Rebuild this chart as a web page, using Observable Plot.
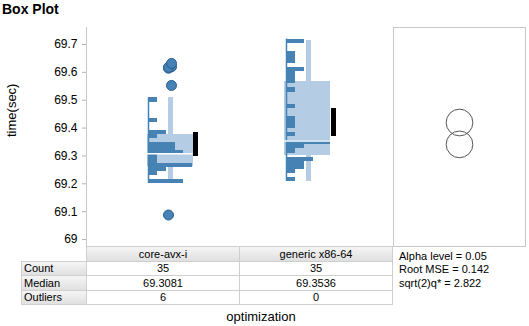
<!DOCTYPE html>
<html><head><meta charset="utf-8">
<script src="https://cdn.jsdelivr.net/npm/d3@7"></script>
<script src="https://cdn.jsdelivr.net/npm/@observablehq/plot@0.6"></script>
<style>
body{margin:0;background:#fff;font-family:"Liberation Sans",Arial,sans-serif;color:#000;}
#root{position:relative;width:529px;height:326px;overflow:hidden;}
.abs{position:absolute;}
.cell{position:absolute;box-sizing:border-box;border:1px solid #cfcfcf;font-size:11px;white-space:nowrap;overflow:hidden;}
.gray{background:linear-gradient(to bottom,#f5f5f5,#e0e0e0);}
</style></head><body><div id="root"></div>
<script>
// ---- data ----
const groups = ["core-avx-i", "generic x86-64"];
const counts = [35, 35];
const medians = [69.3081, 69.3536];
const outlierCounts = [6, 0];
const q1 = [69.263, 69.302];
const q3 = [69.377, 69.567];
const whiskerLow = [69.206, 69.209];
const whiskerHigh = [69.511, 69.714];
const means = [69.3415, 69.420];
const meanLow = [69.299, 69.370];
const meanHigh = [69.384, 69.470];
const binStart = [69.2015, 69.2083];
const binWidth = 0.0146;
const coreBins = [4,0,1,2,5,1,1,4,3,3,0,1,2,0,0,1,0,0,0,0,1];
const genericBins = [1,0,1,2,2,3,0,1,2,5,0,1,0,1,1,1,0,0,1,0,0,0,1,0,1,1,1,2,0,1,1,1,0,0,2];
const coreOutliers = [69.088, 69.553, 69.615, 69.620, 69.618, 69.632];
const alphaLevel = 0.05;
const rootMSE = 0.142;
const sqrt2q = 2.822;
const yTicks = [69, 69.1, 69.2, 69.3, 69.4, 69.5, 69.6, 69.7];

// ---- layout ----
const FONT = '"Liberation Sans", Arial, sans-serif';
const DARK = "#4682b4", LIGHT = "#b4cce4", GRID = "#c8c8c8";
const yDomain = [68.975, 69.761];
const xMin = -0.4493, xMax = 1.7754;
const PX = 307 / (xMax - xMin);
const u = px => px / PX;
const bins = [coreBins, genericBins];

const histData = [];
bins.forEach((b, gi) => b.forEach((c, i) => {
  if (c > 0) histData.push({gi, c, y1: binStart[gi] + i * binWidth, y2: binStart[gi] + (i + 1) * binWidth});
}));
const boxData = groups.map((g, i) => ({
  gi: i, q1: q1[i], q3: q3[i], med: medians[i], lo: whiskerLow[i], hi: whiskerHigh[i],
  mLo: meanLow[i], mHi: meanHigh[i], hs: binStart[i], he: binStart[i] + bins[i].length * binWidth
}));
const outData = coreOutliers.map((v, i) => ({gi: 0, v, j: i % 2 ? 1.5 : -1.5}));

const root = document.getElementById("root");
const crisp = {shapeRendering: "crispEdges"};

const main = Plot.plot({
  width: 529, height: 247,
  marginLeft: 86, marginRight: 136, marginTop: 27, marginBottom: 1,
  x: {domain: [xMin, xMax], axis: null},
  y: {domain: yDomain, axis: null},
  style: {fontFamily: FONT, fontSize: "12px", color: "#000", background: "transparent", overflow: "visible"},
  marks: [
    Plot.ruleX([xMin], {stroke: GRID}),
    Plot.ruleY([yDomain[0]], {stroke: GRID}),
    Plot.axisY({ticks: yTicks, tickFormat: d => String(+d.toFixed(1)), tickSize: 4, tickPadding: 5,
      stroke: "#b4b4b4", fill: "#000", fontSize: 12, label: null}),
    Plot.text(["time(sec)"], {frameAnchor: "left", dx: -75, rotate: -90, fontSize: 13, fill: "#000"}),
    Plot.rect(boxData, {x1: d => d.gi + u(-1.5), x2: d => d.gi + u(44.5), y1: "q1", y2: "q3", fill: LIGHT, ...crisp}),
    Plot.rect(boxData, {x1: d => d.gi + u(20), x2: d => d.gi + u(25), y1: "lo", y2: "hi", fill: LIGHT, ...crisp}),
    Plot.rect(histData, {x1: "gi", x2: d => d.gi + u(d.c * 8.85), y1: "y1", y2: "y2", fill: DARK, ...crisp}),
    Plot.ruleX(boxData, {x: "gi", y1: "hs", y2: "he", stroke: DARK, strokeWidth: 1.5}),
    Plot.ruleY(boxData, {y: "med", x1: d => d.gi + u(-1.5), x2: d => d.gi + u(44.5), stroke: "#fff", strokeWidth: 1.5}),
    Plot.rect(boxData, {x1: d => d.gi + u(45), x2: d => d.gi + u(50), y1: "mLo", y2: "mHi", fill: "#000", ...crisp}),
    Plot.dot(outData, {x: d => d.gi + u(21.5 + d.j), y: "v", r: 5, fill: DARK, stroke: "#2a5d8f", strokeWidth: 1})
  ]
});
main.style.position = "absolute"; main.style.left = "0px"; main.style.top = "0px";
root.appendChild(main);

// comparison circles
const radiusUnits = (sqrt2q / Math.SQRT2) * rootMSE / Math.sqrt(counts[0]);
const rPx = radiusUnits * (246 - 27) / (yDomain[1] - yDomain[0]);
const right = Plot.plot({
  width: 134, height: 247, marginLeft: 1, marginRight: 1, marginTop: 27, marginBottom: 1,
  x: {domain: [0, 1], axis: null}, y: {domain: yDomain, axis: null},
  style: {background: "transparent", overflow: "visible"},
  marks: [
    Plot.frame({stroke: GRID}),
    Plot.dot(means.map(m => ({m})), {x: () => 0.5, y: "m", r: rPx, stroke: "#555", strokeWidth: 1, fill: "none"})
  ]
});
right.style.position = "absolute"; right.style.left = "392px"; right.style.top = "0px";
root.appendChild(right);

// title
const title = document.createElement("div");
title.className = "abs";
title.style.cssText = "left:2px;top:1px;font-size:14px;font-weight:bold;line-height:16px;";
title.textContent = "Box Plot";
root.appendChild(title);

// table
const colL = [21, 86, 239], colW = [66, 154, 154];
const rowT = [246, 261, 275, 290], rowH = [16, 15, 16, 15];
function cell(r, c, text, gray, align) {
  const d = document.createElement("div");
  d.className = "cell" + (gray ? " gray" : "");
  d.style.left = colL[c] + "px"; d.style.top = rowT[r] + "px";
  d.style.width = colW[c] + "px"; d.style.height = rowH[r] + "px";
  d.style.lineHeight = (rowH[r] - 2) + "px";
  d.style.textAlign = align; d.style.paddingLeft = align === "left" ? "2px" : "0";
  d.textContent = text;
  root.appendChild(d);
}
groups.forEach((g, i) => cell(0, i + 1, g, true, "center"));
const rowsDef = [["Count", counts], ["Median", medians.map(m => m.toFixed(4))], ["Outliers", outlierCounts]];
rowsDef.forEach(([lab, vals], r) => {
  cell(r + 1, 0, lab, true, "left");
  vals.forEach((v, i) => cell(r + 1, i + 1, String(v), false, "center"));
});

// stats
const stats = document.createElement("div");
stats.className = "abs";
stats.style.cssText = "left:399px;top:249.5px;font-size:11px;line-height:13.5px;";
stats.innerHTML = `Alpha level = ${alphaLevel}<br>Root MSE = ${rootMSE}<br>sqrt(2)q* = ${sqrt2q}`;
root.appendChild(stats);

// x label
const xl = document.createElement("div");
xl.className = "abs";
xl.style.cssText = "left:161px;width:200px;text-align:center;top:309px;font-size:13px;line-height:15px;";
xl.textContent = "optimization";
root.appendChild(xl);
</script>
</body></html>
